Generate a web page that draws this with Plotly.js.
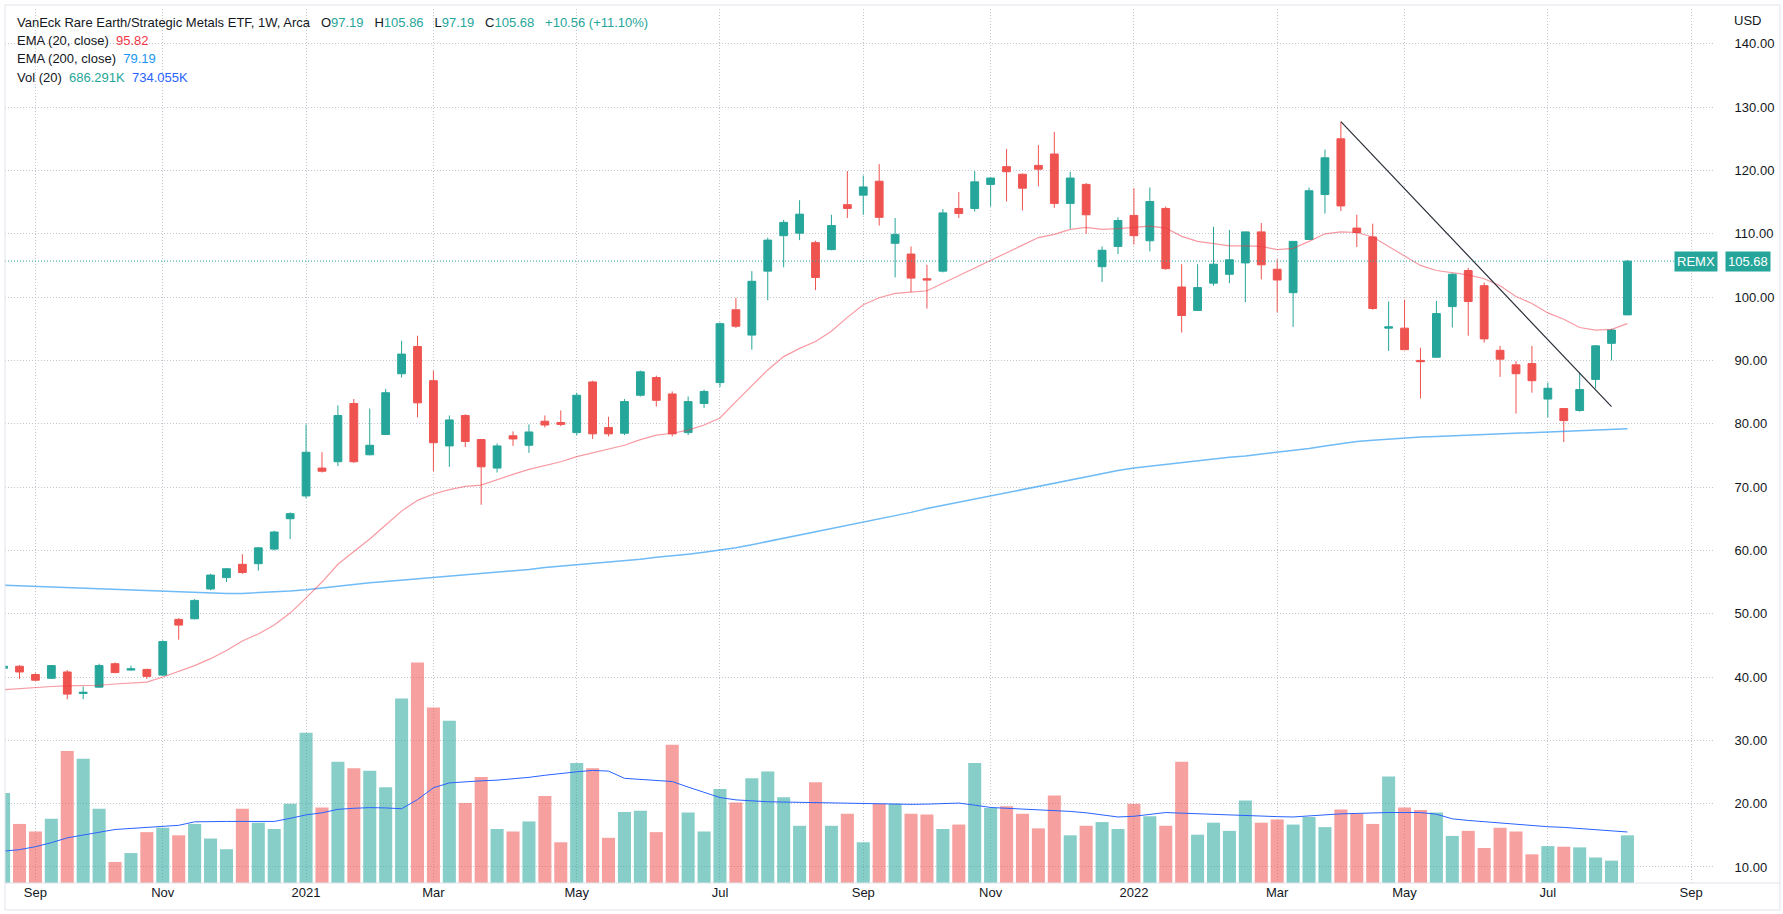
<!DOCTYPE html>
<html><head><meta charset="utf-8">
<script src="https://cdn.plot.ly/plotly-3.0.1.min.js"></script>
<style>html,body{margin:0;padding:0;background:#fff;overflow:hidden}#chart{width:1783px;height:914px}</style>
</head><body><div id="chart"></div>
<script>
const dates = ['2020-08-24','2020-08-31','2020-09-07','2020-09-14','2020-09-21','2020-09-28','2020-10-05','2020-10-12','2020-10-19','2020-10-26','2020-11-02','2020-11-09','2020-11-16','2020-11-23','2020-11-30','2020-12-07','2020-12-14','2020-12-21','2020-12-28',
'2021-01-04','2021-01-11','2021-01-18','2021-01-25','2021-02-01','2021-02-08','2021-02-15','2021-02-22','2021-03-01','2021-03-08','2021-03-15','2021-03-22','2021-03-29','2021-04-05','2021-04-12','2021-04-19','2021-04-26','2021-05-03','2021-05-10','2021-05-17','2021-05-24','2021-05-31','2021-06-07','2021-06-14','2021-06-21','2021-06-28',
'2021-07-05','2021-07-12','2021-07-19','2021-07-26','2021-08-02','2021-08-09','2021-08-16','2021-08-23','2021-08-30','2021-09-06','2021-09-13','2021-09-20','2021-09-27','2021-10-04','2021-10-11','2021-10-18','2021-10-25','2021-11-01','2021-11-08','2021-11-15','2021-11-22','2021-11-29','2021-12-06','2021-12-13','2021-12-20','2021-12-27',
'2022-01-03','2022-01-10','2022-01-17','2022-01-24','2022-01-31','2022-02-07','2022-02-14','2022-02-21','2022-02-28','2022-03-07','2022-03-14','2022-03-21','2022-03-28','2022-04-04','2022-04-11','2022-04-18','2022-04-25','2022-05-02','2022-05-09','2022-05-16','2022-05-23','2022-05-30','2022-06-06','2022-06-13','2022-06-20','2022-06-27','2022-07-04','2022-07-11','2022-07-18','2022-07-25','2022-08-01','2022-08-08'];

const openP = [41.4,41.7,40.4,39.8,40.8,37.4,38.4,42.1,41.1,41.2,40.3,49.1,49.2,53.9,55.7,57.8,57.9,60.2,65.0,
68.6,73.0,74.0,83.2,75.1,78.3,87.9,92.2,86.8,76.5,81.3,77.5,73.0,78.1,76.6,80.4,80.2,78.6,86.6,79.4,78.5,84.5,87.3,84.7,78.6,83.2,
86.5,98.0,94.0,104.1,109.7,110.1,108.6,107.5,114.6,116.1,118.3,108.5,106.8,102.9,104.1,114.0,114.0,117.8,120.6,119.4,120.8,122.6,114.8,117.8,104.8,108.0,
112.9,108.9,114.0,101.6,97.9,102.2,103.6,105.4,110.3,104.4,100.7,109.1,116.2,125.0,110.9,109.5,95.1,95.1,90.0,90.5,98.5,104.2,101.8,91.6,89.3,89.5,83.9,82.4,82.1,87.0,92.7,97.19];
const highP = [41.8,41.9,40.6,41.9,41.1,38.5,42.1,42.3,41.8,41.3,45.8,49.3,52.3,56.3,57.2,59.4,60.5,63.1,66.0,
79.9,75.5,82.9,83.9,82.4,85.5,93.1,93.9,88.4,81.3,81.5,77.6,76.9,78.8,79.9,81.3,82.1,84.9,86.8,81.1,83.9,88.4,87.6,85.1,84.3,85.4,
96.0,99.9,104.1,109.4,112.2,115.3,108.9,113.0,119.9,119.2,121.0,112.5,108.0,105.1,113.9,116.6,119.9,118.9,123.4,119.5,124.0,126.1,119.8,118.0,108.0,112.6,
117.2,117.3,114.3,105.2,105.2,111.1,110.6,110.3,111.7,106.0,108.8,117.3,123.3,127.7,113.0,111.6,99.3,99.6,92.0,99.4,103.8,104.6,102.3,92.3,89.9,92.3,86.5,82.4,88.1,92.4,95.0,105.86];
const lowP = [41.3,39.7,39.4,39.7,36.5,36.5,38.3,40.6,41.0,39.7,40.2,45.9,49.1,53.7,55.0,56.3,56.8,60.0,61.8,
68.2,72.3,73.3,73.8,75.0,78.3,87.3,81.0,72.5,73.2,76.3,67.2,72.3,76.5,75.4,79.4,79.6,78.2,77.6,78.0,78.2,84.3,82.7,78.0,78.2,82.5,
85.8,95.1,91.7,99.5,104.7,109.0,101.1,107.4,112.5,113.0,111.3,103.1,100.8,98.2,103.9,112.5,113.5,114.3,115.1,113.7,117.5,114.1,110.8,110.0,102.4,106.8,
108.3,107.2,104.3,94.4,97.9,101.8,102.2,99.2,102.8,97.6,95.3,109.1,113.2,113.6,107.9,98.0,91.5,91.7,84.0,90.5,95.2,93.9,92.8,87.4,81.6,84.9,81.0,77.1,81.9,85.6,90.0,97.19];
const closeP = [41.7,40.8,39.5,41.8,37.3,37.6,41.8,40.7,41.3,40.1,45.6,48.2,52.1,56.1,57.1,56.5,60.4,62.9,65.8,
75.5,72.5,81.3,74.0,76.6,84.9,91.0,83.3,77.0,80.6,77.2,73.2,76.5,77.6,78.7,79.8,79.9,84.5,78.4,78.4,83.5,88.2,83.7,78.4,83.5,85.1,
95.8,95.4,102.5,109.0,111.8,113.1,103.1,111.3,114.0,117.4,112.6,109.9,103.0,102.7,113.3,113.2,118.2,118.8,119.8,117.2,120.2,114.8,118.8,113.0,107.4,112.1,
109.7,115.1,104.5,97.1,101.5,105.2,105.9,110.3,105.1,102.7,108.8,116.8,122.0,114.4,110.2,98.2,95.3,91.7,89.8,97.4,103.6,99.3,93.4,90.2,87.9,86.8,85.6,80.5,85.4,92.3,94.8,105.68];
// weekly volume, thousands of shares
const volumeK = [1296,850,741,923,1898,1788,1069,303,431,732,795,686,850,640,486,1069,868,777,1141,
2162,1087,1743,1652,1615,1378,2654,3173,2526,2335,1151,1524,777,741,886,1251,586,1725,1652,650,1023,1041,732,1989,1014,741,
1351,1160,1506,1606,1233,823,1451,823,996,586,1141,1141,996,987,777,841,1725,1078,1105,996,786,1260,686,823,877,777,
1141,959,823,1743,695,868,750,1187,868,914,841,950,804,1059,996,850,1533,1087,1050,1014,677,750,504,795,741,413,531,522,513,367,322,686];
const ema20 = [38.0,38.2,38.3,38.5,38.6,38.6,38.7,38.9,39.0,39.2,40.0,40.9,41.8,42.9,44.2,45.7,46.8,48.2,50.1,
52.5,55.0,57.8,59.8,61.8,64.0,66.2,67.9,68.9,69.6,70.1,70.3,71.2,72.0,72.8,73.4,74.0,74.8,75.4,75.9,76.6,77.5,78.2,78.5,79.0,79.8,
80.9,83.5,86.0,88.5,90.6,91.9,93.0,94.6,96.8,98.8,99.9,100.6,100.8,101.0,102.2,103.4,104.6,105.8,107.0,108.1,109.4,109.9,110.7,111.0,110.7,110.8,
111.0,111.2,110.9,109.6,108.8,108.4,108.1,108.1,108.0,107.5,107.7,108.8,110.0,110.3,110.2,109.5,108.0,106.4,105.0,104.2,103.9,103.5,102.9,101.8,100.1,99.0,97.5,96.5,95.2,94.8,94.9,95.82];
const ema200 = [54.5,54.4,54.3,54.2,54.1,54.0,53.9,53.8,53.7,53.6,53.5,53.4,53.3,53.3,53.2,53.2,53.3,53.4,53.6,
53.8,54.1,54.4,54.7,54.9,55.1,55.3,55.5,55.7,55.9,56.1,56.3,56.5,56.7,57.0,57.3,57.5,57.7,58.0,58.2,58.4,58.6,58.9,59.1,59.4,59.7,
60.0,60.4,60.9,61.4,61.9,62.4,62.9,63.4,63.9,64.4,65.0,65.5,66.0,66.6,67.1,67.6,68.1,68.6,69.1,69.6,70.1,70.7,71.2,71.7,72.2,72.6,
73.0,73.3,73.6,73.8,74.1,74.4,74.7,74.9,75.2,75.4,75.7,76.1,76.5,76.9,77.2,77.4,77.6,77.8,77.9,78.0,78.1,78.2,78.3,78.4,78.5,78.6,78.7,78.8,78.9,79.0,79.1,79.19];
const volMA20K = [458,480,522,580,650,690,740,770,785,800,810,830,880,886,886,886,886,886,930,
980,1010,1060,1075,1085,1080,1069,1200,1370,1440,1460,1470,1480,1497,1520,1550,1580,1600,1620,1610,1506,1490,1475,1460,1380,1300,
1230,1196,1180,1169,1165,1160,1160,1155,1155,1151,1145,1138,1132,1135,1140,1150,1120,1087,1075,1065,1060,1050,1030,1010,975,950,
960,990,1014,1005,995,985,975,968,960,955,950,960,980,995,1005,1010,1014,1014,1014,990,923,900,880,860,840,823,810,800,786,770,750,734.055];

const trendDates = ['2022-04-04','2022-08-01'];
const trendVals = [127.7, 82.7];

const tickDates = ['2020-09-07','2020-11-02','2021-01-04','2021-03-01','2021-05-03','2021-07-05','2021-09-06','2021-11-01','2022-01-03','2022-03-07','2022-05-02','2022-07-04','2022-09-05'];
const tickLabels = ['Sep','Nov','2021','Mar','May','Jul','Sep','Nov','2022','Mar','May','Jul','Sep'];
const priceTicks = [10,20,30,40,50,60,70,80,90,100,110,120,130,140];

const UP = '#26a69a', DOWN = '#ef5350';
const volColors = closeP.map((c,i)=> c >= openP[i] ? 'rgba(38,166,154,0.55)' : 'rgba(239,83,80,0.55)');

const traces = [
  {type:'bar', x:dates, y:volumeK, xaxis:'x', yaxis:'y', marker:{color:volColors, line:{width:0}}, hoverinfo:'skip'},
  {type:'scatter', mode:'lines', x:dates, y:volMA20K, xaxis:'x', yaxis:'y', line:{color:'#2962ff', width:1}, hoverinfo:'skip'},
  {type:'scatter', mode:'lines', x:dates, y:ema200, xaxis:'x', yaxis:'y2', line:{color:'rgba(33,150,243,0.65)', width:1.5}, hoverinfo:'skip'},
  {type:'scatter', mode:'lines', x:dates, y:ema20, xaxis:'x', yaxis:'y2', line:{color:'rgba(242,54,69,0.5)', width:1.2}, hoverinfo:'skip'},
  {type:'candlestick', x:dates, open:openP, high:highP, low:lowP, close:closeP, xaxis:'x', yaxis:'y2',
   increasing:{line:{color:UP, width:1}, fillcolor:UP}, decreasing:{line:{color:DOWN, width:1}, fillcolor:DOWN}, whiskerwidth:0, hoverinfo:'skip'},
  {type:'scatter', mode:'lines', x:trendDates, y:trendVals, xaxis:'x', yaxis:'y2', line:{color:'#2a2e39', width:1.2}, hoverinfo:'skip'}
];

const F = 'Liberation Sans, Arial, sans-serif';
const sp = '&nbsp;';
const G = '#c3c6ce';
const layout = {
  width:1783, height:914, showlegend:false,
  paper_bgcolor:'#ffffff', plot_bgcolor:'#ffffff',
  margin:{l:5, r:68, t:9, b:31},
  font:{family:F, size:13, color:'#131722'},
  bargap:0.18,
  xaxis:{type:'date', range:['2020-08-24 15:00','2022-09-15 12:00'], tickvals:tickDates, ticktext:tickLabels,
    showgrid:true, gridcolor:G, griddash:'1px,2px', gridwidth:1, zeroline:false, showline:false,
    ticks:'', tickfont:{family:F, size:13, color:'#131722'}, rangeslider:{visible:false}, fixedrange:true},
  yaxis:{range:[0,12576], visible:false, showgrid:false, zeroline:false, fixedrange:true},
  yaxis2:{overlaying:'y', side:'right', anchor:'x', range:[7.47,145.5], tickvals:priceTicks, tickformat:'.2f',
    showgrid:true, gridcolor:G, griddash:'1px,2px', gridwidth:1, zeroline:false, showline:false,
    ticks:'outside', ticklen:16, tickcolor:'rgba(0,0,0,0)', tickfont:{family:F, size:13, color:'#131722'}, fixedrange:true},
  shapes:[
    {type:'line', xref:'paper', yref:'y2', x0:0, x1:1, y0:105.68, y1:105.68, line:{color:UP, width:1, dash:'1px,2px'}},
    {type:'rect', xref:'paper', yref:'paper', x0:0, x1:1.038, y0:-0.0309, y1:1.0046, line:{color:'#e0e3eb', width:1}},
    {type:'line', xref:'paper', yref:'paper', x0:0, x1:1.038, y0:0, y1:0, line:{color:'#e0e3eb', width:1}}
  ],
  annotations:[
    {xref:'paper', yref:'paper', x:0.00585, y:0.9851, xanchor:'left', yanchor:'middle', showarrow:false, align:'left',
     text:'VanEck Rare Earth/Strategic Metals ETF, 1W, Arca'+sp+sp+sp+'O<span style="color:#26a69a">97.19</span>'+sp+sp+sp+'H<span style="color:#26a69a">105.86</span>'+sp+sp+sp+'L<span style="color:#26a69a">97.19</span>'+sp+sp+sp+'C<span style="color:#26a69a">105.68</span>'+sp+sp+sp+'<span style="color:#26a69a">+10.56 (+11.10%)</span>'},
    {xref:'paper', yref:'paper', x:0.00585, y:0.9640, xanchor:'left', yanchor:'middle', showarrow:false,
     text:'EMA (20, close)'+sp+sp+'<span style="color:#f23645">95.82</span>'},
    {xref:'paper', yref:'paper', x:0.00585, y:0.9428, xanchor:'left', yanchor:'middle', showarrow:false,
     text:'EMA (200, close)'+sp+sp+'<span style="color:#2196f3">79.19</span>'},
    {xref:'paper', yref:'paper', x:0.00585, y:0.9216, xanchor:'left', yanchor:'middle', showarrow:false,
     text:'Vol (20)'+sp+sp+'<span style="color:#26a69a">686.291K</span>'+sp+sp+'<span style="color:#2962ff">734.055K</span>'},
    {xref:'paper', yref:'paper', x:1.00994, y:0.98696, xanchor:'left', yanchor:'middle', showarrow:false, text:'USD'},
    {xref:'paper', yref:'y2', x:0.98918, y:105.68, xanchor:'center', yanchor:'middle', showarrow:false, text:'REMX',
     bgcolor:UP, borderpad:2, font:{family:F, size:13, color:'#ffffff'}},
    {xref:'paper', yref:'y2', x:1.01959, y:105.68, xanchor:'center', yanchor:'middle', showarrow:false, text:'105.68',
     bgcolor:UP, borderpad:2, font:{family:F, size:13, color:'#ffffff'}}
  ]
};
Plotly.newPlot('chart', traces, layout, {staticPlot:true, displayModeBar:false});
</script></body></html>
